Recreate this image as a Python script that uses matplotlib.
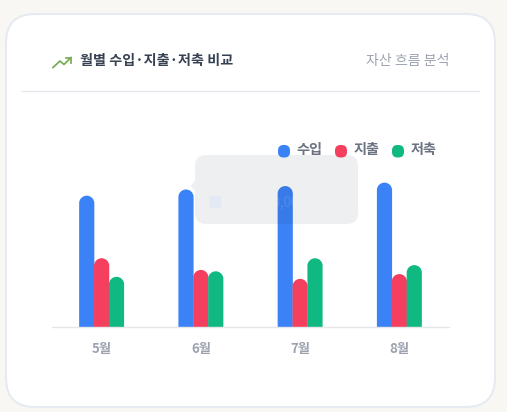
import matplotlib
matplotlib.use("Agg")
import matplotlib.pyplot as plt
from matplotlib.patches import FancyBboxPatch, PathPatch, Polygon
from matplotlib.path import Path

plt.rcParams['font.family'] = ['Noto Sans CJK KR', 'DejaVu Sans']

W, H = 507, 412

months = ['5월', '6월', '7월', '8월']
income = [19100, 20000, 20500, 21000]
spending = [10000, 8300, 7000, 7700]
savings = [7300, 8100, 10000, 9000]
y_max = 30000

title = '월별 수입·지출·저축 비교'
subtitle = '자산 흐름 분석'
tooltip_month = '6월'
tooltip_line = '수입 : 20,000만원'

BLUE = '#3b82f6'
RED = '#f43f5e'
GREEN = '#10b981'


def rounded_bar(ax, x, width, height, color, r_px=7.5):
    """bar with a round top, the radius is given in pixels"""
    bbox = ax.get_window_extent()
    x0, x1 = ax.get_xlim()
    y0, y1 = ax.get_ylim()
    rx = r_px * (x1 - x0) / bbox.width
    ry = r_px * (y1 - y0) / bbox.height
    k = 0.5523
    left, right = x - width / 2, x + width / 2
    verts = [(left, 0), (left, height - ry),
             (left, height - ry + k * ry), (left + rx - k * rx, height), (left + rx, height),
             (right - rx, height),
             (right - rx + k * rx, height), (right, height - ry + k * ry), (right, height - ry),
             (right, 0), (left, 0)]
    codes = [Path.MOVETO, Path.LINETO,
             Path.CURVE4, Path.CURVE4, Path.CURVE4,
             Path.LINETO,
             Path.CURVE4, Path.CURVE4, Path.CURVE4,
             Path.LINETO, Path.CLOSEPOLY]
    ax.add_patch(PathPatch(Path(verts, codes), facecolor=color, edgecolor='none'))


def pixel_axes(fig, zorder):
    # overlay in screenshot pixels, y going down
    ax = fig.add_axes([0, 0, 1, 1], zorder=zorder)
    ax.set_xlim(0, W)
    ax.set_ylim(H, 0)
    ax.axis('off')
    return ax


fig = plt.figure(figsize=(W / 100, H / 100), dpi=100, facecolor='#f8f7f4')

# card
back = pixel_axes(fig, 0)
back.add_patch(FancyBboxPatch((6, 14), 489, 393, boxstyle='round,pad=0,rounding_size=29',
                              facecolor='white', edgecolor='#e6ebf2', linewidth=1.5))
back.plot([22, 479], [91, 91], color='#e5e7eb', linewidth=1)
back.plot([53, 60, 64, 71], [67.5, 61, 64.5, 57.5], color='#74ad55', linewidth=1.25)
back.plot([65.5, 71, 71], [57.5, 57.5, 63], color='#74ad55', linewidth=1.25)
back.text(80, 61, title, fontsize=10.15, fontweight='bold', color='#374151', va='center', ha='left')
back.text(449, 60.5, subtitle, fontsize=10.1, color='#9ca3af', va='center', ha='right')

# chart
left, right, base = 52, 449, 327
top = base - 206.25
ax = fig.add_axes([left / W, 1 - base / H, (right - left) / W, (base - top) / H], zorder=1)
ax.patch.set_alpha(0)
ax.set_xlim(-0.5, len(months) - 0.5)
ax.set_ylim(0, y_max)
for s in ['top', 'left', 'right']:
    ax.spines[s].set_visible(False)
ax.spines['bottom'].set_color('#e5e7eb')
ax.spines['bottom'].set_linewidth(1)
ax.set_yticks([])
ax.set_xticks(range(len(months)))
ax.set_xticklabels(months, fontsize=9.6, fontweight='bold', color='#9ca3af')
ax.tick_params(axis='x', length=0, pad=11)

bar_w = 0.153
for i in range(len(months)):
    rounded_bar(ax, i - 0.15, bar_w, income[i], BLUE)
    rounded_bar(ax, i, bar_w, spending[i], RED)
    rounded_bar(ax, i + 0.15, bar_w, savings[i], GREEN)

# tooltip that is still fading out over the bars
front = pixel_axes(fig, 2)
front.add_patch(FancyBboxPatch((195, 155), 163, 69, boxstyle='round,pad=0,rounding_size=11',
                               facecolor='#1e3350', edgecolor='none', alpha=0.08))
front.add_patch(Polygon([(195, 181), (190.5, 186), (195, 191)], closed=True,
                        facecolor='#1e3350', edgecolor='none', alpha=0.08))
front.text(209, 174, tooltip_month, fontsize=9.6, color='white', alpha=0.12, va='center', ha='left')
front.add_patch(FancyBboxPatch((209, 196), 12, 12, boxstyle='round,pad=0,rounding_size=1',
                               facecolor='#e4eaf5', edgecolor='none'))
front.text(231, 202, tooltip_line, fontsize=9.6, color='white', alpha=0.12, va='center', ha='left')

# legend
names = ['수입', '지출', '저축']
colors = [BLUE, RED, GREEN]
for n, c, x in zip(names, colors, [278, 335, 392]):
    front.add_patch(FancyBboxPatch((x, 145), 12, 12.5, boxstyle='round,pad=0,rounding_size=5.5',
                                   facecolor=c, edgecolor='none'))
    front.text(x + 18.5, 150, n, fontsize=10.2, fontweight='bold', color='#6b7280', va='center', ha='left')

fig.savefig('out.png', dpi=100, facecolor=fig.get_facecolor())
